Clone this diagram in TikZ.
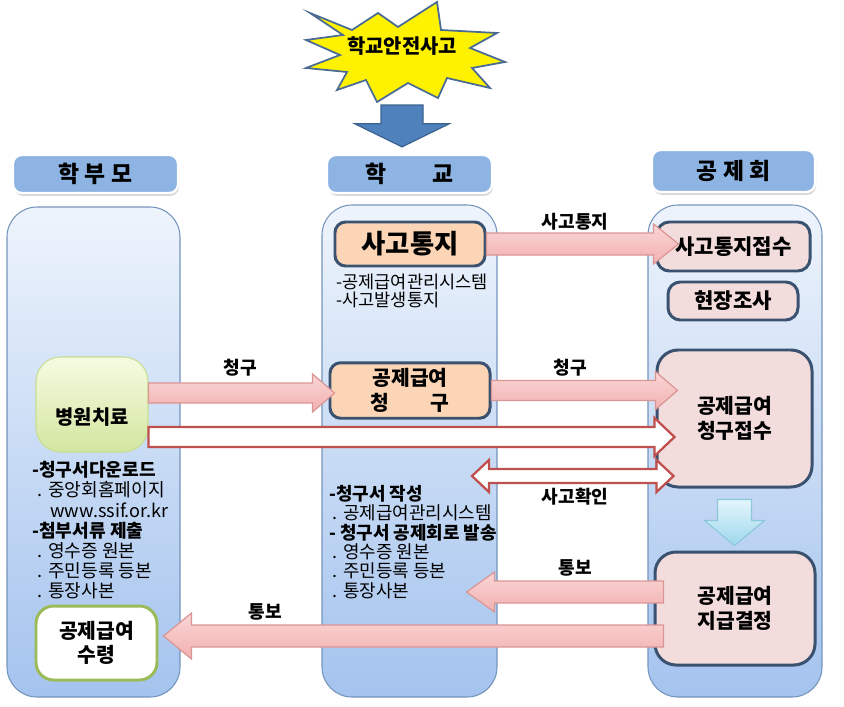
\documentclass[tikz,border=0pt]{standalone}
\usepackage{fontspec}
\setmainfont{Noto Sans CJK KR}
\usetikzlibrary{calc,shadows}

\definecolor{hdrblue}{HTML}{8DB4E2}
\definecolor{panetop}{HTML}{EEF4FC}
\definecolor{panebot}{HTML}{A4C3EE}
\definecolor{paneline}{HTML}{7594BC}
\definecolor{boxline}{HTML}{3A5170}
\definecolor{boxorange}{HTML}{FBD5B5}
\definecolor{boxpink}{HTML}{F2DDDC}
\definecolor{pinktop}{HTML}{FAD6D6}
\definecolor{pinkbot}{HTML}{F2B0B0}
\definecolor{pinkedge}{HTML}{DA9695}
\definecolor{arrowred}{HTML}{C0504D}
\definecolor{greentop}{HTML}{F6FBE1}
\definecolor{greenbot}{HTML}{D3E6A0}
\definecolor{greenline}{HTML}{9BBB59}
\definecolor{starline}{HTML}{4A6C94}
\definecolor{bluearrow}{HTML}{4F81BD}
\definecolor{bluearrowline}{HTML}{3B6390}
\definecolor{cyantop}{HTML}{E4F5FB}
\definecolor{cyanbot}{HTML}{9DD8ED}
\definecolor{cyanline}{HTML}{8CC6DA}

\newcommand{\pxu}{0.02cm}
% block arrows: style, from, to, shaft half, head half, head length (px)
\newcommand{\harrow}[6]{\draw[#1] let \p1=#2, \p2=#3, \n1={sign(\x2-\x1)} in
  (\x1,{\y1+#4*\pxu}) -- ({\x2-\n1*#6*\pxu},{\y1+#4*\pxu}) -- ({\x2-\n1*#6*\pxu},{\y1+#5*\pxu})
  -- (\x2,\y1) -- ({\x2-\n1*#6*\pxu},{\y1-#5*\pxu}) -- ({\x2-\n1*#6*\pxu},{\y1-#4*\pxu})
  -- (\x1,{\y1-#4*\pxu}) -- cycle;}
\newcommand{\varrow}[6]{\draw[#1] let \p1=#2, \p2=#3, \n1={sign(\y2-\y1)} in
  ({\x1+#4*\pxu},\y1) -- ({\x1+#4*\pxu},{\y2-\n1*#6*\pxu}) -- ({\x1+#5*\pxu},{\y2-\n1*#6*\pxu})
  -- (\x1,\y2) -- ({\x1-#5*\pxu},{\y2-\n1*#6*\pxu}) -- ({\x1-#4*\pxu},{\y2-\n1*#6*\pxu})
  -- ({\x1-#4*\pxu},\y1) -- cycle;}
\newcommand{\dharrow}[6]{\draw[#1] let \p1=#2, \p2=#3 in
  (\x1,\y1) -- ({\x1+#6*\pxu},{\y1+#5*\pxu}) -- ({\x1+#6*\pxu},{\y1+#4*\pxu})
  -- ({\x2-#6*\pxu},{\y1+#4*\pxu}) -- ({\x2-#6*\pxu},{\y1+#5*\pxu}) -- (\x2,\y1)
  -- ({\x2-#6*\pxu},{\y1-#5*\pxu}) -- ({\x2-#6*\pxu},{\y1-#4*\pxu})
  -- ({\x1+#6*\pxu},{\y1-#4*\pxu}) -- ({\x1+#6*\pxu},{\y1-#5*\pxu}) -- cycle;}

\tikzset{
  hdr/.style={rounded corners=5pt, fill=hdrblue, draw=white, line width=1.3pt,
    drop shadow={opacity=.3, shadow xshift=.6pt, shadow yshift=-1.6pt},
    font=\fontsize{13}{15}\selectfont\bfseries},
  panel/.style={rounded corners=0.6cm, draw=paneline, line width=.6pt,
    top color=panetop, bottom color=panebot},
  orgbox/.style={rounded corners=6pt, fill=boxorange, draw=boxline, line width=1.7pt,
    align=center, font=\fontsize{11.6}{14}\selectfont\bfseries},
  pinkbox/.style={rounded corners=7pt, fill=boxpink, draw=boxline, line width=1.7pt,
    align=center, font=\fontsize{11.6}{14}\selectfont\bfseries},
  greenbox/.style={rounded corners=14pt, top color=greentop, bottom color=greenbot,
    draw=greenbot!80!greenline, line width=.6pt, font=\fontsize{11.3}{14}\selectfont\bfseries},
  whitebox/.style={rounded corners=10pt, fill=white, draw=greenline, line width=1.7pt,
    align=center, font=\fontsize{11.6}{14}\selectfont\bfseries},
  smalltxt/.style={inner sep=0pt, align=left, font=\fontsize{10.3}{11.5}\selectfont},
  lbl/.style={font=\fontsize{10.3}{12}\selectfont\bfseries},
  pinkarrow/.style={top color=pinktop, bottom color=pinkbot, draw=pinkedge, line width=.7pt},
  hollowarrow/.style={fill=white, draw=arrowred, line width=1.3pt},
}

\begin{document}
\begin{tikzpicture}[x=\pxu, y=-\pxu]
\useasboundingbox[fill=white] (0,0) rectangle (844,706);

% accident
\draw[fill=yellow, draw=starline, line width=1pt, line join=miter]
  (310,13) -- (352,30) -- (378,13) -- (398,27) -- (437,2) -- (441,30) -- (497,33)
  -- (470,48) -- (505,62) -- (472,68) -- (490,88) -- (447,78) -- (438,98) -- (408,83)
  -- (377,102) -- (366,80) -- (337,90) -- (347,72) -- (306,68) -- (340,55) -- (306,40)
  -- (343,35) -- cycle;
\node[font=\fontsize{11.3}{13}\selectfont\bfseries] (accident) at (402,46) {학교안전사고};

% columns
\node[panel, minimum width=173*\pxu, minimum height=490*\pxu] (panelParent) at (93.5,452) {};
\node[panel, minimum width=175*\pxu, minimum height=492*\pxu] (panelSchool) at (409.5,451) {};
\node[panel, minimum width=174*\pxu, minimum height=492*\pxu] (panelFund) at (735,451) {};

\node[hdr, minimum width=165*\pxu, minimum height=38*\pxu] (hdrParent) at (95.5,174) {학 부 모};
\node[hdr, minimum width=165*\pxu, minimum height=38*\pxu] (hdrSchool) at (409.5,174) {학\hspace{2em}교};
\node[hdr, minimum width=163*\pxu, minimum height=42*\pxu] (hdrFund) at (733.5,171) {공 제 회};

% parent
\node[greenbox, minimum width=112*\pxu, minimum height=95*\pxu, text height=2.3em, text depth=0pt] (hospital) at (92,404.5) {병원치료};
\node[smalltxt, anchor=north west] (parentNote) at (32,461)
  {\textbf{-청구서다운로드}\\
   \hspace*{0.3em}. 중앙회홈페이지\\
   \hspace*{1em}www.ssif.or.kr\\
   \textbf{-첨부서류 제출}\\
   \hspace*{0.3em}. 영수증 원본\\
   \hspace*{0.3em}. 주민등록 등본\\
   \hspace*{0.3em}. 통장사본};
\node[whitebox, minimum width=121*\pxu, minimum height=74*\pxu] (receive) at (96.5,643) {공제급여\\수령};

% school
\node[orgbox, minimum width=150*\pxu, minimum height=44*\pxu,
  font=\fontsize{15}{17}\selectfont\bfseries] (notice) at (410,244) {사고통지};
\node[smalltxt, anchor=north west, font=\fontsize{10}{10.3}\selectfont] (noticeNote) at (336,274) {-공제급여관리시스템\\-사고발생통지};
\node[orgbox, minimum width=160*\pxu, minimum height=55*\pxu] (claim) at (410,390.5) {공제급여\\청\hspace{2em}구};
\node[smalltxt, anchor=north west, font=\fontsize{10.2}{11}\selectfont] (claimNote) at (329,485)
  {\textbf{-청구서 작성}\\
   \hspace*{0.2em}. 공제급여관리시스템\\
   \textbf{- 청구서 공제회로 발송}\\
   \hspace*{0.2em}. 영수증 원본\\
   \hspace*{0.2em}. 주민등록 등본\\
   \hspace*{0.2em}. 통장사본};

% fund
\node[pinkbox, minimum width=153*\pxu, minimum height=49*\pxu, font=\fontsize{12}{14}\selectfont\bfseries] (noticeRecv) at (733.5,246.5) {사고통지접수};
\node[pinkbox, minimum width=130*\pxu, minimum height=38*\pxu, font=\fontsize{12}{14}\selectfont\bfseries] (survey) at (733,301) {현장조사};
\node[pinkbox, rounded corners=12pt, minimum width=155*\pxu, minimum height=137*\pxu] (claimRecv) at (734.5,418.5) {공제급여\\청구접수};
\node[pinkbox, rounded corners=12pt, minimum width=160*\pxu, minimum height=113*\pxu] (decide) at (735,608.5) {공제급여\\지급결정};

% flow
\varrow{fill=bluearrow, draw=bluearrowline, line width=.7pt}{([yshift=-59*\pxu]accident.center)}{([yshift=7*\pxu]hdrSchool.north)}{21}{47}{23}
\harrow{pinkarrow}{(notice.east)}{([xshift=23*\pxu]noticeRecv.west)}{11}{20}{25}
\harrow{pinkarrow}{([yshift=11.5*\pxu]hospital.east)}{([xshift=6*\pxu]claim.west)}{10}{19}{22}
\harrow{pinkarrow}{(claim.east)}{([xshift=22*\pxu]claimRecv.west)}{10}{19}{22}
\harrow{hollowarrow}{([yshift=-32.5*\pxu]hospital.east)}{([xshift=19*\pxu]claimRecv.west)}{10}{19}{20}
\coordinate (check) at (472,476);
\dharrow{hollowarrow}{(check)}{([xshift=18*\pxu]claimRecv.west)}{7}{16}{17}
\varrow{top color=cyantop, bottom color=cyanbot, draw=cyanline, line width=.6pt}{([yshift=-11*\pxu]claimRecv.south)}{([yshift=5*\pxu]decide.north)}{17}{30}{25}
\harrow{pinkarrow}{([xshift=10*\pxu, yshift=16.5*\pxu]decide.west)}{([xshift=-31*\pxu]panelSchool.east)}{11}{20}{28}
\harrow{pinkarrow}{([xshift=10*\pxu, yshift=-27.5*\pxu]decide.west)}{([xshift=5*\pxu]receive.east)}{11}{23}{28}

\node[lbl] (lNotice) at (575,222) {사고통지};
\node[lbl] (lClaimA) at (240,368) {청구};
\node[lbl] (lClaimB) at (570,368) {청구};
\node[lbl] (lCheck) at (575,497) {사고확인};
\node[lbl] (lReportA) at (575,568) {통보};
\node[lbl] (lReportB) at (265,612) {통보};
\end{tikzpicture}
\end{document}
